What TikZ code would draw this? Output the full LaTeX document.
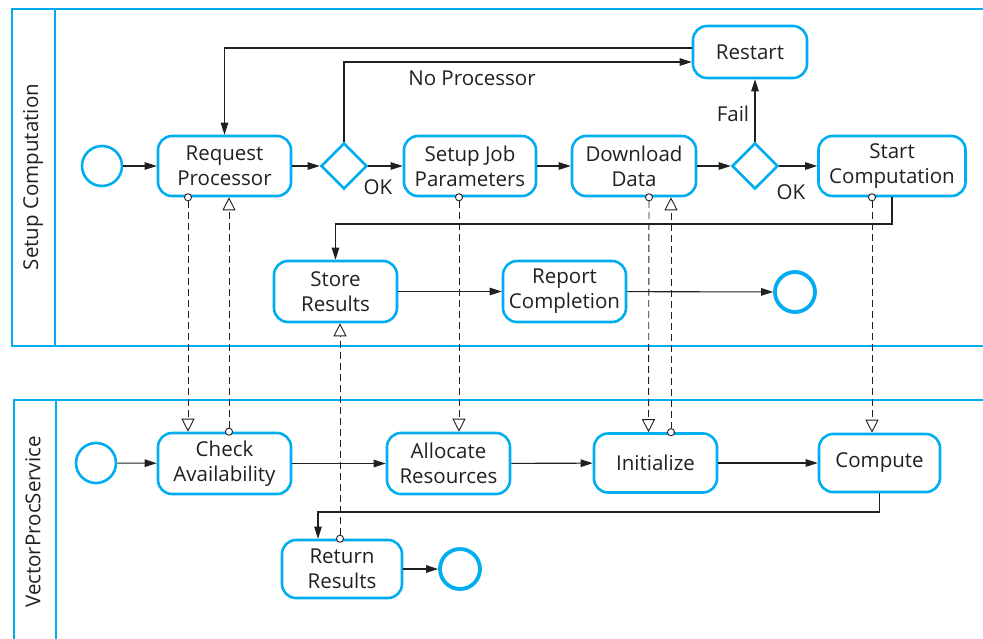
\documentclass[tikz,border=0pt]{standalone}
\usepackage{fontspec}
\setmainfont{Open Sans}
\usetikzlibrary{arrows.meta,shapes.geometric,calc}
\definecolor{bpmn}{RGB}{0,174,239}
\definecolor{ink}{RGB}{35,31,32}
\begin{document}
\begin{tikzpicture}[x=1pt,y=-1pt,
  txt/.style={text=ink, font=\fontsize{20.5}{25}\selectfont, align=center, inner sep=0pt},
  task/.style={txt, draw=bpmn, line width=2.6pt, rounded corners=14pt},
  gw/.style={diamond, draw=bpmn, line width=2.6pt, minimum size=46pt, inner sep=0pt},
  startev/.style={circle, draw=bpmn, line width=2.6pt, minimum size=40pt, inner sep=0pt},
  endev/.style={circle, draw=bpmn, line width=3.8pt, minimum size=40pt, inner sep=0pt},
  flow/.style={draw=ink, line width=1.1pt, -{Triangle[length=12pt,width=7.5pt]}},
  msg/.style={draw=ink, line width=0.9pt, dash pattern=on 7pt off 4pt, shorten <=-4pt,
    {Circle[open,length=8pt,width=8pt,fill=white]}-{Triangle[open,length=13pt,width=13pt,fill=white]}},
  pool/.style={draw=bpmn, line width=2.6pt}]
\useasboundingbox (0,0) rectangle (983,638);
% pools
\draw[pool] (990,9) -- (12,9) -- (12,346) -- (990,346);
\draw[pool] (55,9) -- (55,346);
\draw[pool] (990,400) -- (14,400) -- (14,645);
\draw[pool] (56,400) -- (56,645);
\node[txt, rotate=90] (p1) at (33,177) {Setup Computation};
\node[txt, rotate=90] (p2) at (33,522) {VectorProcService};
% pool 1 nodes
\node[startev] (s1) at (102,166) {};
\node[task, minimum width=133pt, minimum height=60pt] (rp) at (224.5,166) {Request\\Processor};
\node[gw] (d1) at (344,166) {};
\node[task, minimum width=132pt, minimum height=60pt] (sj) at (470,166) {Setup Job\\Parameters};
\node[task, minimum width=124pt, minimum height=60pt] (dd) at (634,166) {Download\\Data};
\node[gw] (d2) at (755,166) {};
\node[task, minimum width=147pt, minimum height=60pt] (sc) at (892,166) {Start\\Computation};
\node[task, minimum width=114pt, minimum height=52pt] (rs) at (750,52) {Restart};
\node[task, minimum width=123pt, minimum height=61pt] (sr) at (335.5,291.5) {Store\\Results};
\node[task, minimum width=123pt, minimum height=61pt] (rc) at (564.5,291.5) {Report\\Completion};
\node[endev] (e1) at (795,292) {};
% pool 2 nodes
\node[startev] (s2) at (96,463) {};
\node[task, minimum width=133pt, minimum height=61pt] (ca) at (224.5,463.5) {Check\\Availability};
\node[task, minimum width=123pt, minimum height=61pt] (al) at (448.5,463.5) {Allocate\\Resources};
\node[task, minimum width=123pt, minimum height=59pt] (in) at (655.5,463) {Initialize};
\node[task, minimum width=121pt, minimum height=58pt] (co) at (879.5,463) {Compute};
\node[task, minimum width=120pt, minimum height=58pt] (rr) at (342,569) {Return\\Results};
\node[endev] (e2) at (460,569) {};
% helper coordinates
\coordinate (j1) at (0,224);
\coordinate (j2) at (0,512);
% sequence flows pool 1
\draw[flow] (s1) -- (rp);
\draw[flow] (rp) -- (d1);
\draw[flow] (d1) -- (sj);
\draw[flow] (sj) -- (dd);
\draw[flow] (dd) -- (d2);
\draw[flow] (d2) -- (sc);
\draw[flow] (d2.north) -- (d2.north |- rs.south);
\draw[flow] (d1.north) |- ([yshift=-10pt]rs.west);
\draw[flow] ([yshift=4pt]rs.west) -| (rp.north);
\draw[flow] (sc.south) -- (sc.south |- j1) -| (sr.north);
\draw[flow] (sr) -- (rc);
\draw[flow] (rc) -- (e1);
\node[txt] (lok1) at (378,187) {OK};
\node[txt] (lok2) at (791,192) {OK};
\node[txt] (lfail) at (733,114) {Fail};
\node[txt] (lnp) at (472,78) {No Processor};
% sequence flows pool 2
\draw[flow] (s2) -- (ca);
\draw[flow] (ca) -- (al);
\draw[flow] (al) -- (in);
\draw[flow] (in) -- (co);
\draw[flow] (co.south) -- (co.south |- j2) -| ([xshift=-24pt]rr.north);
\draw[flow] (rr) -- (e2);
% message flows
\draw[msg] ([xshift=-36.5pt]rp.south) -- ([xshift=-36.5pt]ca.north);
\draw[msg] ([xshift=4.5pt]ca.north) -- ([xshift=4.5pt]rp.south);
\draw[msg] ([xshift=-11pt]sj.south) -- ([xshift=10.5pt]al.north);
\draw[msg] ([xshift=15pt]dd.south) -- ([xshift=-7pt]in.north);
\draw[msg] ([xshift=15.5pt]in.north) -- ([xshift=37pt]dd.south);
\draw[msg] ([xshift=-20pt]sc.south) -- ([xshift=-7.5pt]co.north);
\draw[msg] ([xshift=-2pt]rr.north) -- ([xshift=4.5pt]sr.south);
\end{tikzpicture}
\end{document}
